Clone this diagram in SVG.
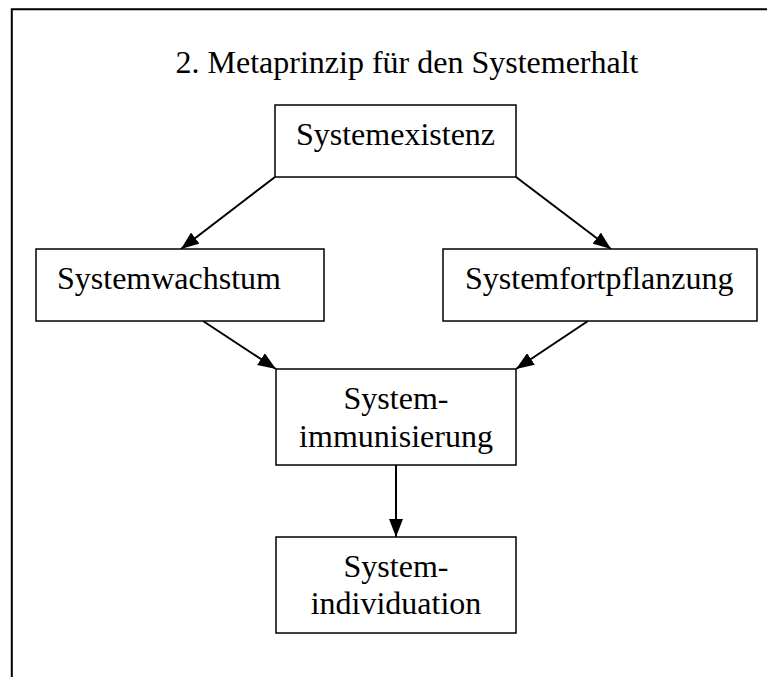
<svg xmlns="http://www.w3.org/2000/svg" width="767" height="677" viewBox="0 0 767 677">
<style>
.box{fill:#fff;stroke:#000;stroke-width:1.5}
.t{font-family:"Liberation Serif","Times New Roman",serif;font-size:32px;fill:#000}
.c{text-anchor:middle}
.edge{stroke:#000;stroke-width:2;fill:none;marker-end:url(#ah)}
</style>
<defs>
<marker id="ah" markerUnits="userSpaceOnUse" markerWidth="18" markerHeight="14" refX="18" refY="7" orient="auto">
<path d="M0,0 L18,7 L0,14 Z" fill="#000"/>
</marker>
</defs>
<rect width="767" height="677" fill="#fff"/>
<path d="M11.8,677 V9.3 H767" fill="none" stroke="#000" stroke-width="2"/>
<text class="t c" x="407" y="73">2. Metaprinzip für den Systemerhalt</text>
<g id="connectors">
<line class="edge" x1="275" y1="177" x2="181" y2="249"/>
<line class="edge" x1="516" y1="177" x2="611" y2="249"/>
<line class="edge" x1="203" y1="321" x2="276" y2="369"/>
<line class="edge" x1="588" y1="321" x2="516" y2="369"/>
<line class="edge" x1="396" y1="465" x2="396" y2="537"/>
</g>
<g id="systemexistenz">
<rect class="box" x="275" y="105" width="241" height="72"/>
<text class="t c" x="395.5" y="145">Systemexistenz</text>
</g>
<g id="systemwachstum">
<rect class="box" x="36" y="249" width="288" height="72"/>
<text class="t" x="57" y="289">Systemwachstum</text>
</g>
<g id="systemfortpflanzung">
<rect class="box" x="443" y="249" width="314" height="72"/>
<text class="t" x="465" y="289">Systemfortpflanzung</text>
</g>
<g id="systemimmunisierung">
<rect class="box" x="276" y="369" width="240" height="96"/>
<text class="t c" x="396" y="409">System-</text>
<text class="t c" x="396" y="447">immunisierung</text>
</g>
<g id="systemindividuation">
<rect class="box" x="276" y="537" width="240" height="96"/>
<text class="t c" x="396" y="577">System-</text>
<text class="t c" x="396" y="614">individuation</text>
</g>
</svg>
